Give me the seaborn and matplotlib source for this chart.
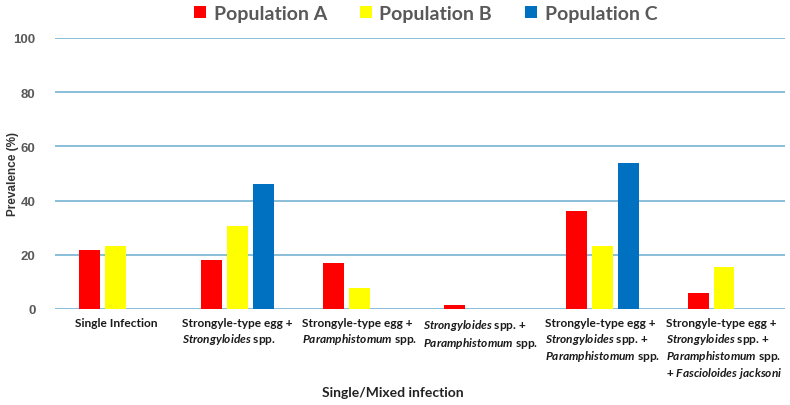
import matplotlib
matplotlib.use("Agg")
import matplotlib.pyplot as plt
import seaborn as sns
import pandas as pd
from matplotlib.patches import Patch

categories = [
    "Single Infection",
    "Strongyle-type egg +\n$\\mathit{Strongyloides}$ spp.",
    "Strongyle-type egg +\n$\\mathit{Paramphistomum}$ spp.",
    "$\\mathit{Strongyloides}$ spp. +\n$\\mathit{Paramphistomum}$ spp.",
    "Strongyle-type egg +\n$\\mathit{Strongyloides}$ spp. +\n$\\mathit{Paramphistomum}$ spp.",
    "Strongyle-type egg +\n$\\mathit{Strongyloides}$ spp. +\n$\\mathit{Paramphistomum}$ spp.\n+ $\\mathit{Fascioloides\\ jacksoni}$",
]
series_names = ["Population A", "Population B", "Population C"]
pop_a = [21.7, 18.2, 17.0, 1.3, 36.0, 6.0]
pop_b = [23.1, 30.8, 7.7, 0.0, 23.1, 15.4]
pop_c = [0.0, 46.2, 0.0, 0.0, 53.8, 0.0]
colors = ["#FF0000", "#FFFF00", "#0070C0"]
yticks = [0, 20, 40, 60, 80, 100]

rows = []
for i, cat in enumerate(categories):
    for name, vals in zip(series_names, [pop_a, pop_b, pop_c]):
        rows.append({"cat": cat, "pop": name, "val": vals[i]})
df = pd.DataFrame(rows)

sns.set_theme(style="white")
FONT = "Lato"
plt.rcParams["font.family"] = [FONT, "DejaVu Sans"]
plt.rcParams["mathtext.fontset"] = "custom"
plt.rcParams["mathtext.it"] = f"{FONT}:italic:bold"
plt.rcParams["mathtext.rm"] = f"{FONT}:bold"
plt.rcParams["mathtext.bf"] = f"{FONT}:bold"

fig = plt.figure(figsize=(7.9, 4.06), dpi=100)
ax = fig.add_axes([0.0696, 0.2365, 0.924, 0.6675])

sns.barplot(data=df, x="cat", y="val", hue="pop", palette=colors,
            width=0.64, gap=0.2, linewidth=0, saturation=1, ax=ax, legend=False)

ax.set_ylim(0, 100)
ax.set_yticks(yticks)
ax.set_xlim(-0.5, len(categories) - 0.5)
grid_c = "#6AAED0"
for y in yticks:
    ax.axhline(y, color=grid_c, lw=1.1, zorder=0)
for s in ax.spines.values():
    s.set_visible(False)

ax.tick_params(axis="both", length=0)
ax.set_yticklabels([str(v) for v in yticks], fontsize=9.5, fontweight="bold",
                   color="#595959", family=["Liberation Sans"])
ax.set_xticks(range(len(categories)))
ax.set_xticklabels(categories, fontsize=8.6, fontweight="bold", color="#1a1a1a",
                   ha="center", multialignment="left", va="top", linespacing=1.2)
ax.tick_params(axis="x", pad=6)
ax.tick_params(axis="y", pad=14)

ax.set_ylabel("")
ax.set_xlabel("")
fig.text(0.016, 0.571, "Prevalence (%)", rotation=90, ha="center", va="center",
         fontsize=8.5, fontweight="bold", color="#333333", family=["Liberation Sans"])
fig.text(0.4975, 0.032, "Single/Mixed infection", ha="center", va="center",
         fontsize=10, fontweight="bold", color="#222222")

handles = [Patch(facecolor=c, edgecolor="none") for c in colors]
fig.legend(handles, series_names, loc="center", bbox_to_anchor=(0.539, 0.965), ncol=3,
           frameon=False, handlelength=0.6, handleheight=0.6, handletextpad=0.4,
           columnspacing=1.7, prop={"size": 14, "weight": "bold"}, labelcolor="#595959")

fig.savefig("out.png", dpi=100)
